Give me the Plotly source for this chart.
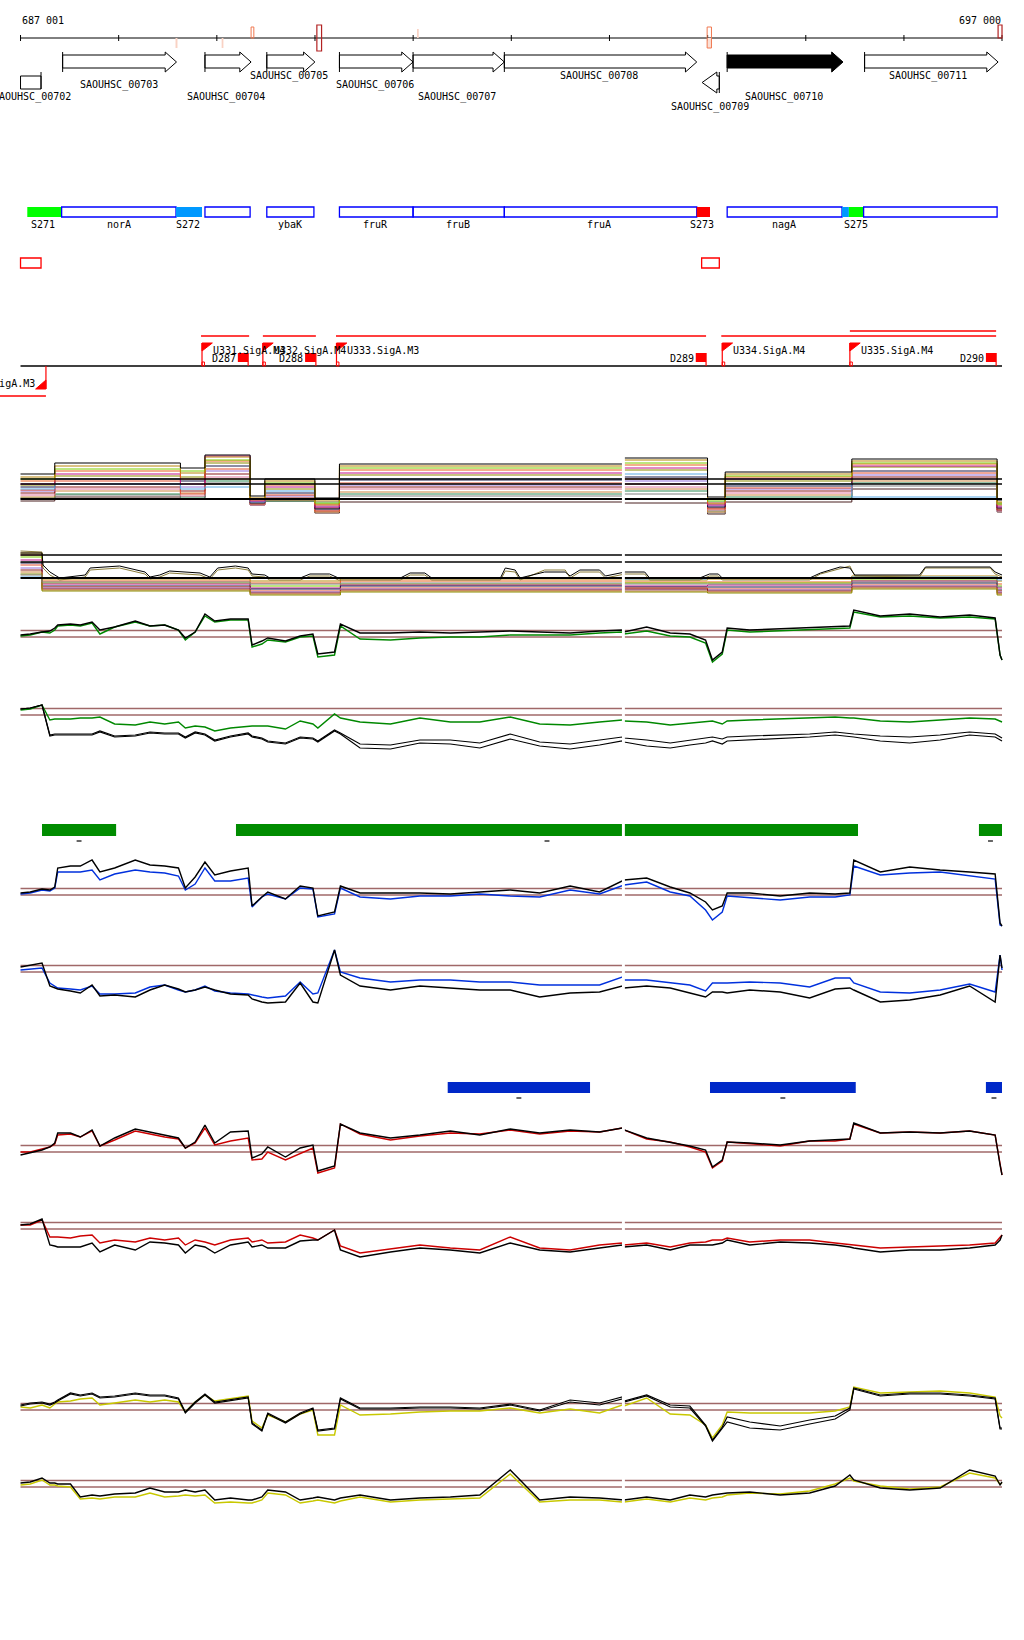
import plotly.graph_objects as go

W, H = 1024, 1640
X_RANGE = [686792, 697224]
FONT = "DejaVu Sans Mono"

# ---------------- data ----------------
TICKS = [687001, 688001, 689001, 690001, 691001, 692001, 693001, 694001, 695001, 696001, 697000]
POS_LABELS = ["687 001", "697 000"]

GENE_NAMES = ["SAOUHSC_00702", "SAOUHSC_00703", "SAOUHSC_00704", "SAOUHSC_00705", "SAOUHSC_00706",
              "SAOUHSC_00707", "SAOUHSC_00708", "SAOUHSC_00709", "SAOUHSC_00710", "SAOUHSC_00711"]
GENE_START = [687001, 687430, 688880, 689510, 690250, 691000, 691930, 693945, 694200, 695600]
GENE_END = [687210, 688590, 689350, 690000, 691000, 691930, 693890, 694120, 695380, 696960]
GENE_STRAND = ["0", "+", "+", "+", "+", "+", "+", "-", "+", "+"]
GENE_LABEL_X = [687123, 688000, 689095, 689740, 690617, 691447, 692899, 694020, 694779, 696246]

OPERON_NAMES = ["S271", "norA", "S272", "", "ybaK", "fruR", "fruB", "fruA", "S273", "nagA", "S275", "", ""]
OPERON_START = [687070, 687420, 688585, 688880, 689510, 690250, 691000, 691930, 693890, 694200, 695370, 695440, 695590]
OPERON_END = [687420, 688585, 688850, 689340, 689990, 691000, 691930, 693890, 694025, 695370, 695440, 695590, 696950]
OPERON_FILL = ["#00FF00", None, "#0099FF", None, None, None, None, None, "#FF0000", None, "#0099FF", "#00FF00", None]
OPERON_LABEL_X = [687230, 688000, 688707, None, 689745, 690622, 691458, 692894, 693945, 694779, 695512, None, None]

RED_BOX_START = [687001, 693940]
RED_BOX_END = [687210, 694120]

U_NAMES = ["U331.SigA.M4", "U332.SigA.M4", "U333.SigA.M3", "U334.SigA.M4", "U335.SigA.M4"]
U_POS = [688850, 689470, 690220, 694150, 695450]
D_NAMES = ["D287", "D288", "D289", "D290"]
D_START = [689215, 689900, 693880, 696836]
D_END = [689320, 690010, 693985, 696940]
REG_START = [688840, 689470, 690215, 694140]
REG_END = [689330, 690010, 693985, 696940]
REG2_START = [695450]
REG2_END = [696940]
REV_NAME = "U330.SigA.M3"
REV_POS = 687260

GREEN_BAR_START = [687220, 689196, 696765]
GREEN_BAR_END = [687975, 695533, 697000]
BLUE_BAR_START = [691353, 694025, 696836]
BLUE_BAR_END = [692803, 695510, 697000]

# common positions for the profile tracks
POS = [687001, 687100, 687220, 687300, 687350, 687380, 687510, 687610, 687730, 687810, 687960, 688170,
       688320, 688470, 688610, 688680, 688780, 688880, 688980, 689140, 689320, 689360, 689460, 689520,
       689700, 689850, 689980, 690030, 690200, 690260, 690460, 690770, 691070, 691380, 691680, 691990,
       692290, 692600, 692900, 693130, 693150, 693380, 693620, 693820, 693980, 694050, 694150, 694200,
       694430, 694740, 695040, 695300, 695450, 695490, 695760, 696060, 696370, 696670, 696930, 696980, 697000]

GT_BLACK = [0.2,0.3,0.5,0.6,0.9,1.2,1.3,1.2,1.5,0.7,1.0,1.6,1.1,1.2,0.7,-0.1,0.5,2.3,1.6,1.8,1.8,-0.8,-0.4,-0.1,-0.4,0.1,0.3,-1.7,-1.5,1.3,0.4,0.4,0.5,0.4,0.5,0.6,0.5,0.4,0.6,0.7,0.5,1.0,0.4,0.3,-0.3,-2.3,-1.5,0.9,0.7,0.8,0.9,1.0,1.1,2.7,2.1,2.3,2.0,2.2,1.9,-1.8,-2.3]
GT_GREEN = [0.1,0.2,0.5,0.4,0.7,1.1,1.2,1.1,1.4,0.3,1.0,1.5,1.1,1.2,0.7,-0.3,0.5,2.1,1.5,1.7,1.7,-1.0,-0.7,-0.3,-0.5,0.0,0.1,-2.0,-1.8,1.1,-0.2,-0.3,-0.1,0.0,0.0,0.2,0.2,0.2,0.4,0.5,0.3,0.6,0.1,0.0,-0.6,-2.5,-1.7,0.7,0.5,0.6,0.7,0.8,0.9,2.5,2.0,2.1,1.9,2.0,1.8,-1.8,-2.3]
GB_BLACK = [0.6,0.7,1.0,-2.0,-1.9,-1.9,-1.9,-1.9,-1.9,-1.6,-2.1,-2.0,-1.7,-1.8,-1.8,-2.2,-1.7,-1.9,-2.5,-2.1,-1.8,-2.1,-2.3,-2.6,-2.8,-2.2,-2.3,-2.6,-1.5,-1.8,-2.9,-3.0,-2.5,-2.5,-2.8,-1.9,-2.7,-2.9,-2.5,-2.2,-2.3,-2.5,-2.8,-2.5,-2.3,-2.2,-2.4,-2.2,-2.1,-2.0,-1.9,-1.7,-1.8,-1.9,-2.1,-2.2,-2.0,-1.7,-1.9,-2.2,-2.3]
GB_BLACK2 = [0.6,0.7,1.0,-2.1,-2.0,-2.0,-2.0,-2.0,-2.0,-1.7,-2.2,-2.1,-1.8,-1.9,-1.9,-2.3,-1.8,-2.0,-2.6,-2.2,-1.9,-2.2,-2.4,-2.7,-2.9,-2.3,-2.4,-2.7,-1.6,-1.9,-3.3,-3.4,-2.8,-2.9,-3.3,-2.4,-3.1,-3.4,-3.0,-2.6,-2.7,-3.1,-3.3,-3.0,-2.8,-2.6,-2.9,-2.6,-2.5,-2.4,-2.2,-2.0,-2.1,-2.2,-2.6,-2.8,-2.5,-2.0,-2.2,-2.5,-2.6]
GB_GREEN = [0.5,0.6,1.0,-0.5,-0.4,-0.4,-0.4,-0.3,-0.3,-0.2,-0.9,-1.0,-0.7,-0.9,-0.7,-1.3,-1.1,-1.2,-1.6,-1.3,-1.1,-1.1,-1.1,-1.1,-1.4,-0.6,-0.9,-1.3,0.1,-0.3,-0.7,-0.9,-0.3,-0.7,-0.7,-0.2,-0.9,-1.0,-0.7,-0.5,-0.6,-0.7,-1.0,-0.8,-0.7,-0.6,-0.9,-0.6,-0.5,-0.4,-0.3,-0.2,-0.3,-0.3,-0.6,-0.7,-0.5,-0.3,-0.4,-0.6,-0.7]
BT_BLACK = [0.2,0.3,0.6,0.5,0.8,2.7,2.9,2.9,3.5,2.3,2.7,3.5,3.0,2.9,2.7,0.7,1.8,3.3,2.0,2.4,2.7,-1.1,-0.2,0.3,-0.4,0.9,0.7,-2.1,-1.7,0.9,0.2,0.2,0.2,0.1,0.3,0.5,0.2,0.9,0.3,1.4,1.5,1.7,0.8,0.2,-0.7,-1.5,-1.1,0.2,0.2,-0.1,0.2,0.1,0.2,3.5,2.3,2.8,2.5,2.3,2.1,-2.8,-3.1]
BT_BLUE = [0.1,0.2,0.5,0.4,0.7,2.3,2.3,2.3,2.5,1.5,2.1,2.5,2.3,2.2,1.9,0.5,1.1,2.7,1.4,1.4,1.7,-1.2,-0.2,0.1,-0.4,0.7,0.6,-2.2,-1.9,0.7,-0.2,-0.4,-0.1,-0.1,0.1,-0.1,-0.2,0.5,0.1,1.0,1.0,1.3,0.3,-0.1,-1.5,-2.5,-1.7,-0.1,-0.3,-0.5,-0.2,-0.2,0.0,2.9,2.0,2.2,2.3,1.9,1.6,-3.0,-3.1]
BB_BLACK = [0.5,0.7,0.9,-1.4,-1.6,-1.7,-1.9,-2.1,-1.3,-2.4,-2.3,-2.5,-1.8,-1.3,-1.7,-2.0,-1.8,-1.5,-1.8,-2.2,-2.3,-2.7,-3.0,-3.1,-3.0,-1.1,-3.0,-3.1,2.2,-0.3,-1.4,-1.8,-1.4,-1.6,-1.8,-1.8,-2.5,-2.1,-2.0,-1.4,-1.6,-1.4,-1.6,-2.1,-2.5,-2.0,-2.0,-2.1,-1.8,-2.0,-2.6,-1.7,-1.6,-1.8,-3.0,-2.8,-2.3,-1.4,-3.0,1.7,0.4]
BB_BLUE = [0.2,0.3,0.4,-1.1,-1.4,-1.6,-1.7,-1.8,-1.4,-2.2,-2.2,-2.1,-1.5,-1.3,-1.8,-2.0,-1.8,-1.4,-1.9,-2.1,-2.2,-2.3,-2.5,-2.6,-2.4,-1.0,-2.2,-2.1,2.2,0.0,-0.6,-1.0,-0.8,-0.8,-1.0,-1.0,-1.3,-1.3,-1.3,-0.5,-0.8,-0.8,-1.1,-1.3,-1.9,-1.1,-1.1,-1.1,-1.0,-1.1,-1.5,-0.6,-0.6,-1.1,-2.0,-2.1,-1.8,-1.2,-2.0,1.7,0.2]
RT_BLACK = [-0.3,-0.1,0.2,0.5,0.9,1.9,1.9,1.5,2.2,0.6,1.4,2.3,2.0,1.7,1.4,0.4,1.0,2.7,0.9,2.0,2.1,-0.6,-0.2,0.5,-0.5,0.4,0.7,-1.9,-1.4,2.8,1.9,1.4,1.7,2.1,1.7,2.3,1.9,2.2,2.0,2.4,2.2,1.4,1.0,0.6,0.2,-1.5,-0.8,1.0,0.9,0.7,1.1,1.2,1.3,2.9,1.9,2.0,1.9,2.1,1.7,-1.3,-2.3]
RT_RED = [0.0,0.0,0.3,0.5,0.8,1.7,1.8,1.5,2.1,0.6,1.2,2.1,1.8,1.5,1.3,0.4,0.9,2.4,0.7,1.1,1.4,-0.8,-0.7,0.0,-0.8,-0.2,0.4,-2.1,-1.6,2.8,1.8,1.2,1.6,1.9,1.8,2.2,1.8,2.1,2.0,2.4,2.2,1.3,1.0,0.5,0.0,-1.6,-0.9,1.0,0.8,0.6,1.1,1.1,1.3,2.8,1.9,2.0,1.9,2.1,1.7,-1.3,-2.3]
RB_BLACK = [0.4,0.5,1.0,-1.6,-1.7,-1.8,-1.8,-1.8,-1.4,-2.3,-1.6,-2.1,-1.3,-1.4,-1.6,-2.4,-1.6,-1.8,-2.4,-1.6,-1.3,-1.8,-1.6,-1.9,-1.9,-1.2,-1.1,-1.1,-0.1,-2.1,-2.8,-2.3,-1.9,-2.1,-2.4,-1.4,-2.1,-2.3,-1.9,-1.6,-1.8,-1.6,-2.1,-1.6,-1.6,-1.6,-1.4,-1.1,-1.6,-1.3,-1.4,-1.6,-1.8,-1.9,-2.3,-2.1,-2.1,-1.9,-1.6,-1.1,-0.6]
RB_RED = [0.4,0.4,0.9,-0.8,-0.8,-0.8,-0.9,-0.7,-0.6,-1.4,-1.1,-1.3,-0.9,-1.1,-0.9,-1.6,-1.1,-1.3,-1.6,-1.1,-0.9,-1.3,-1.1,-1.4,-1.3,-0.6,-0.9,-1.1,-0.1,-1.7,-2.4,-2.0,-1.6,-1.9,-2.1,-0.8,-1.9,-2.1,-1.6,-1.4,-1.6,-1.4,-1.8,-1.4,-1.3,-1.1,-1.1,-0.9,-1.3,-1.1,-1.1,-1.4,-1.6,-1.6,-1.9,-1.8,-1.7,-1.6,-1.4,-0.9,-0.6]
YT_BLACK = [0.5,0.7,0.8,0.6,0.8,1.0,1.7,1.5,1.7,1.3,1.4,1.7,1.5,1.5,1.2,-0.2,0.8,1.6,0.8,1.0,1.3,-1.3,-2.0,-0.3,-1.2,-0.3,0.2,-2.0,-1.8,1.2,0.2,0.2,0.3,0.3,0.2,0.6,0.0,1.0,0.7,1.3,0.9,1.5,0.5,0.4,-1.5,-3.0,-1.7,-0.7,-1.2,-1.6,-1.0,-0.6,0.2,2.2,1.5,1.7,1.7,1.5,1.2,-1.8,-1.8]
YT_BLACK2 = [0.4,0.6,0.7,0.5,0.7,0.9,1.6,1.4,1.6,1.2,1.3,1.6,1.4,1.4,1.1,-0.3,0.7,1.5,0.7,0.9,1.2,-1.4,-2.1,-0.4,-1.3,-0.4,0.1,-2.1,-1.9,1.1,0.1,0.1,0.2,0.2,0.1,0.5,-0.1,0.8,0.5,1.1,0.8,1.4,0.3,0.2,-1.6,-3.1,-1.9,-1.2,-1.8,-2.0,-1.4,-0.9,0.0,2.1,1.4,1.6,1.6,1.4,1.1,-1.9,-1.9]
YT_YELLOW = [0.3,0.2,0.5,0.2,0.6,0.8,0.9,1.1,1.2,0.5,0.7,1.0,0.8,1.0,0.8,-0.2,0.8,1.5,0.9,1.1,1.4,-1.1,-1.8,-0.5,-1.2,-0.4,0.0,-2.5,-2.5,0.5,-0.5,-0.4,-0.2,-0.1,-0.1,0.2,-0.3,0.1,-0.3,0.5,0.4,1.2,-0.4,-0.5,-1.5,-2.8,-1.5,-0.2,-0.3,-0.3,-0.3,-0.1,0.3,2.3,1.7,1.8,1.9,1.7,1.3,-0.6,-0.8]
YB_BLACK = [0.4,0.5,0.9,0.4,0.4,0.3,0.3,-1.0,-0.8,-0.9,-0.7,-0.6,-0.1,-0.5,-0.5,-0.3,-0.5,-0.3,-1.3,-1.1,-1.3,-1.3,-1.0,-0.3,-0.5,-1.3,-1.1,-1.0,-1.3,-1.1,-0.8,-1.3,-1.1,-1.0,-0.8,1.7,-1.3,-1.0,-1.1,-1.3,-1.3,-1.0,-1.3,-0.8,-1.0,-0.8,-0.7,-0.6,-0.5,-0.8,-0.6,0.1,1.2,0.7,-0.1,-0.3,-0.1,1.7,1.1,0.2,0.5]
YB_YELLOW = [0.2,0.3,0.7,0.2,0.2,0.1,0.0,-1.2,-1.1,-1.2,-1.0,-1.0,-0.6,-1.0,-0.9,-0.8,-0.9,-0.8,-1.6,-1.5,-1.6,-1.6,-1.3,-0.6,-0.8,-1.6,-1.4,-1.3,-1.6,-1.4,-1.0,-1.5,-1.3,-1.2,-1.1,1.3,-1.5,-1.3,-1.3,-1.5,-1.5,-1.2,-1.5,-1.1,-1.3,-1.1,-1.0,-0.8,-0.6,-0.7,-0.4,0.3,0.9,0.6,0.1,-0.2,0.0,1.4,0.9,0.3,0.4]

# multi-sample track A (segment levels)
A_SEG = [687001, 687350, 688630, 688880, 689340, 689490, 690000, 690250, 693140, 694000, 694180, 695470, 696950, 697000]
A_COLORS = ["#000000", "#B8860B", "#7CCD00", "#E8601C", "#C0148C", "#8B8B00", "#5AAAE6", "#1A1A4A",
            "#E05030", "#9370DB", "#8B1A1A", "#E07AA0", "#CD853F", "#2E8B57", "#808080", "#4A2020"]
A_LEVELS = [
    [2.5, 3.6, 3.1, 4.4, 0.3, 2.0, 0.1, 3.5, 4.1, 0.2, 2.7, 4.0, -0.1],
    [2.2, 3.3, 2.6, 4.2, 0.1, 1.8, -0.2, 3.3, 3.9, 0.0, 2.5, 3.8, -0.3],
    [2.0, 3.0, 2.8, 3.9, 0.0, 1.6, -0.4, 3.1, 3.6, -0.2, 2.3, 3.6, -0.5],
    [1.8, 2.8, 2.0, 3.8, -0.1, 1.4, -0.6, 2.9, 3.4, -0.4, 2.2, 3.5, -0.6],
    [1.5, 2.5, 1.5, 4.3, -0.2, 1.2, -0.8, 2.6, 3.1, -0.6, 2.0, 3.3, -0.8],
    [1.4, 2.3, 2.2, 3.6, 0.0, 1.0, -0.5, 2.4, 2.9, -0.5, 1.8, 3.2, -0.4],
    [1.0, 1.5, 1.0, 1.2, -0.3, 0.8, -0.3, 2.0, 2.5, -0.3, 1.5, 0.2, -0.5],
    [1.2, 2.0, 1.8, 3.3, -0.4, 0.6, -1.0, 1.9, 2.2, -0.8, 1.3, 2.8, -0.9],
    [0.9, 1.8, 0.5, 3.0, -0.5, 0.4, -1.2, 1.6, 2.0, -1.0, 1.1, 2.6, -1.0],
    [0.8, 1.5, 1.2, 2.8, -0.2, 0.3, -0.7, 1.4, 1.8, -0.7, 1.0, 2.4, -0.7],
    [0.6, 1.2, 0.8, 2.5, -0.3, 0.1, -0.9, 1.2, 1.5, -0.9, 0.8, 2.2, -1.1],
    [0.4, 1.0, 0.3, 2.2, -0.6, 0.0, -1.1, 1.0, 1.2, -1.1, 0.6, 2.0, -1.2],
    [0.2, 0.8, 0.6, 2.0, -0.4, -0.1, -1.3, 0.7, 1.0, -1.3, 0.4, 1.8, -0.9],
    [0.1, 0.5, 0.2, 1.8, -0.5, -0.2, -1.0, 0.5, 0.8, -1.2, 0.2, 1.6, -1.0],
    [0.0, 0.4, 0.0, 1.6, -0.6, -0.1, -1.2, 0.3, 0.5, -1.4, 0.0, 1.3, -1.2],
    [-0.2, 0.2, 0.0, 1.5, -0.6, -0.2, -1.4, -0.3, -0.4, -1.5, -0.3, 1.0, -1.3],
]

# multi-sample track B
B_SEG = [687001, 687220, 689340, 690260, 693140, 694000, 695470, 696950, 697000]
B_COLORS = ["#B8860B", "#E8601C", "#7CCD00", "#C0148C", "#5AAAE6", "#1A1A4A",
            "#E05030", "#9370DB", "#8B1A1A", "#CD853F", "#8B8B00", "#808080"]
B_LEVELS = [
    [2.5, -0.1, -0.3, -0.1, -0.2, -0.1, 0.2, -0.3],
    [2.3, -0.3, -0.5, -0.3, -0.4, -0.4, 0.0, -0.6],
    [2.1, -0.5, -0.8, -0.6, -0.5, -0.5, -0.2, -0.8],
    [1.8, -0.6, -1.0, -0.7, -0.8, -0.7, -0.3, -1.0],
    [0.1, 0.0, 0.0, 0.0, -0.1, 0.0, 0.1, -0.2],
    [1.5, -0.8, -1.1, -0.8, -0.9, -0.9, -0.5, -1.2],
    [1.3, -0.9, -1.3, -1.0, -1.0, -1.1, -0.7, -1.3],
    [1.0, -1.0, -1.4, -1.1, -1.2, -1.2, -0.8, -1.4],
    [0.8, -1.1, -1.5, -1.2, -1.1, -1.3, -0.9, -1.5],
    [0.6, -1.2, -1.6, -1.3, -1.3, -1.4, -1.0, -1.6],
    [0.4, -1.3, -1.7, -1.4, -1.4, -1.5, -1.1, -1.7],
    [0.3, -0.4, -0.6, -0.5, -0.6, -0.6, -0.4, -0.9],
]
B_UP_POS = [687001, 687220, 687230, 687300, 687400, 687660, 687710, 688010, 688270, 688320, 688420, 688520,
            688830, 688930, 689010, 689190, 689320, 689360, 689490, 689540, 689850, 689950, 690150, 690240,
            690870, 690970, 691120, 691190, 691890, 691940, 692040, 692090, 692340, 692550, 692600, 692700,
            692900, 692960, 693160, 693360, 693410, 693920, 694020, 694110, 694150, 695040, 695150, 695350,
            695450, 695500, 696160, 696220, 696880, 696930, 697000]
B_UP_BLACK = [2.5,2.5,1.3,0.6,0.0,0.3,1.0,1.2,0.6,0.1,0.3,0.7,0.5,0.1,1.0,1.2,1.0,0.4,0.3,0.0,0.0,0.4,0.4,0.0,0.0,0.5,0.5,0.0,0.0,1.0,0.8,0.0,0.6,0.6,0.2,0.8,0.8,0.2,0.6,0.6,0.0,0.0,0.4,0.4,0.0,0.0,0.5,1.1,1.0,0.3,0.3,1.1,1.1,0.6,0.3]
B_UP_OLIVE = [2.7,2.6,1.0,0.3,-0.2,0.1,0.8,1.0,0.4,-0.1,0.1,0.5,0.3,-0.1,0.8,1.0,0.8,0.2,0.1,-0.2,-0.2,0.2,0.2,-0.2,-0.2,0.3,0.3,-0.2,-0.2,0.7,0.6,-0.2,0.8,0.8,0.0,0.6,0.6,0.0,0.4,0.4,-0.2,-0.2,0.2,0.2,-0.2,-0.2,0.4,0.9,1.2,0.2,0.1,1.0,1.0,0.4,0.1]

# ---------------- layout helpers ----------------
GREEN, BLUE, RED, YELLOW, BROWN = "#008800", "#0030DD", "#CC0000", "#C8C800", "#A06868"

# panel: (axis, top px, bottom px, baseline px)
PANELS = {
    "A": ("y2", 440, 530, 499), "B": ("y3", 530, 605, 578),
    "GT": ("y4", 605, 680, 637), "GB": ("y5", 680, 770, 715),
    "BT": ("y6", 840, 935, 895), "BB": ("y7", 935, 1025, 972),
    "RT": ("y8", 1100, 1190, 1152), "RB": ("y9", 1190, 1280, 1229),
    "YT": ("y10", 1370, 1455, 1410), "YB": ("y11", 1455, 1530, 1487),
}

fig = go.Figure()
shapes = []
annots = []


def txt(x, y, s, anchor="center", size=10, color="black"):
    annots.append(dict(x=x, y=y, xref="x", yref="y", text=s, showarrow=False, xanchor=anchor,
                       yanchor="middle", borderpad=0, font=dict(family=FONT, size=size, color=color)))


def line(x0, y0, x1, y1, color="black", width=1, yref="y", layer="above"):
    shapes.append(dict(type="line", x0=x0, x1=x1, y0=y0, y1=y1, xref="x", yref=yref,
                       line=dict(color=color, width=width), layer=layer))


def rect(x0, y0, x1, y1, color="black", fill=None, width=1, layer="above"):
    shapes.append(dict(type="rect", x0=x0, x1=x1, y0=y0, y1=y1, xref="x", yref="y",
                       line=dict(color=color, width=width if color else 0),
                       fillcolor=fill if fill else "rgba(0,0,0,0)", layer=layer))


def path(d, color="black", fill=None, width=1):
    shapes.append(dict(type="path", path=d, xref="x", yref="y", line=dict(color=color, width=width),
                       fillcolor=fill if fill else "rgba(0,0,0,0)", layer="above"))


def trace(x, y, axis, color, width=1.3, shape="linear"):
    fig.add_trace(go.Scatter(x=x, y=y, xaxis="x", yaxis=axis, mode="lines", hoverinfo="skip",
                             showlegend=False, line=dict(color=color, width=width, shape=shape)))


# ---------------- ruler ----------------
line(TICKS[0], 38, TICKS[-1], 38, width=1)
for t in TICKS:
    line(t, 35, t, 41, width=1)
txt(TICKS[0], 20, POS_LABELS[0], anchor="left")
txt(TICKS[-1], 20, POS_LABELS[1], anchor="right")
# marks on the ruler
rect(688580, 38, 688600, 48, color=None, fill="#F9D2C4")
rect(689050, 38, 689068, 48, color=None, fill="#F9D2C4")
rect(691040, 29, 691058, 38, color=None, fill="#F9D2C4")
rect(689350, 27, 689378, 38, color="#F07850", width=1)
rect(690020, 25, 690068, 51, color="#B22222", width=1.2)
rect(693996, 38, 694040, 48, color=None, fill="#FBE0D6")
rect(693996, 27, 694040, 48, color="#F07850", width=1)
rect(696960, 25, 697000, 38, color="#B22222", width=1.2)

# ---------------- genes ----------------
HEAD = 115
label_rows = [97, 85, 97, 76, 85, 97, 76, 107, 97, 76]
for name, s, e, st, lx, ly in zip(GENE_NAMES, GENE_START, GENE_END, GENE_STRAND, GENE_LABEL_X, label_rows):
    if st == "+":
        hs = e - HEAD
        d = f"M {s},55 L {hs},55 L {hs},52 L {e},62 L {hs},72 L {hs},68 L {s},68 Z"
        fill = "black" if name == "SAOUHSC_00710" else "white"
        path(d, fill=fill)
        line(s, 52, s, 72)
    elif st == "-":
        hs = s + 150
        d = f"M {e},76 L {hs},76 L {hs},72 L {s},82.5 L {hs},93 L {hs},89 L {e},89 Z"
        path(d, fill="white")
        line(e, 72, e, 93)
    else:
        rect(s, 76, e, 89, color="black")
        line(e, 72, e, 89)
    txt(lx, ly, name)

# ---------------- operon / feature bars ----------------
for nm, s, e, f, lx in zip(OPERON_NAMES, OPERON_START, OPERON_END, OPERON_FILL, OPERON_LABEL_X):
    if f:
        rect(s, 207, e, 217, color=None, fill=f)
    else:
        rect(s, 207, e, 217, color="#0000FF", width=1.3)
    if nm and lx:
        txt(lx, 224, nm)

for s, e in zip(RED_BOX_START, RED_BOX_END):
    rect(s, 258, e, 268, color="#FF0000", width=1.3)

# ---------------- promoters / terminators ----------------
line(687001, 366, 697000, 366, width=1.3)
for s, e in zip(REG_START, REG_END):
    line(s, 336, e, 336, color="#FF0000", width=1.3)
for s, e in zip(REG2_START, REG2_END):
    line(s, 331, e, 331, color="#FF0000", width=1.3)
for nm, p in zip(U_NAMES, U_POS):
    line(p, 343, p, 366, color="#FF0000", width=1.2)
    path(f"M {p},343 L {p + 105},343 L {p},351 Z", color="#FF0000", fill="#FF0000")
    rect(p, 362, p + 25, 366, color="#FF0000", width=1)
    txt(p + 100, 350, nm, anchor="left")
for nm, s, e in zip(D_NAMES, D_START, D_END):
    rect(s, 353, e, 362, color=None, fill="#FF0000")
    line(e, 353, e, 366, color="#FF0000", width=1.2)
    txt(s - 10, 358, nm, anchor="right")
line(REV_POS, 366, REV_POS, 389, color="#FF0000", width=1.2)
path(f"M {REV_POS},380 L {REV_POS},389 L {REV_POS - 105},389 Z", color="#FF0000", fill="#FF0000")
txt(REV_POS - 105, 383, REV_NAME, anchor="right")
line(X_RANGE[0], 396, REV_POS, 396, color="#FF0000", width=1.3)

# ---------------- expression panels ----------------
layout_axes = {}
for key, (ax, pt, pb, ref) in PANELS.items():
    name = "yaxis" + ax[1:]
    layout_axes[name] = dict(domain=[1 - pb / H, 1 - pt / H], range=[(ref - pb) / 10, (ref - pt) / 10],
                             visible=False, fixedrange=True, anchor="x")

# reference lines
for key in ["GT", "GB", "BT", "BB", "RT", "RB", "YT", "YB"]:
    ax = PANELS[key][0]
    for v in (0.0, 0.65):
        line(687001, v, 697000, v, color=BROWN, width=1.3, yref=ax, layer="below")

# track A
for col, lev in zip(A_COLORS[::-1], A_LEVELS[::-1]):
    trace(A_SEG, lev + [lev[-1]], "y2", col, width=1, shape="hv")
for v, wd in ((2.0, 1.4), (1.5, 1.4), (0.0, 1.8)):
    line(687001, v, 697000, v, width=wd, yref="y2")

# track B
for col, lev in zip(B_COLORS, B_LEVELS):
    trace(B_SEG, lev + [lev[-1]], "y3", col, width=1, shape="hv")
trace(B_UP_POS, B_UP_OLIVE, "y3", "#8B7D3A", width=1)
trace(B_UP_POS, B_UP_BLACK, "y3", "#000000", width=1)
for v, wd in ((2.3, 1.4), (1.6, 1.4), (0.0, 2.2)):
    line(687001, v, 697000, v, width=wd, yref="y3")

# pair tracks
for key, blacks, col, c in [("GT", [GT_BLACK], GT_GREEN, GREEN), ("GB", [GB_BLACK, GB_BLACK2], GB_GREEN, GREEN),
                            ("BT", [BT_BLACK], BT_BLUE, BLUE), ("BB", [BB_BLACK], BB_BLUE, BLUE),
                            ("RT", [RT_BLACK], RT_RED, RED), ("RB", [RB_BLACK], RB_RED, RED),
                            ("YT", [YT_BLACK, YT_BLACK2], YT_YELLOW, YELLOW), ("YB", [YB_BLACK], YB_YELLOW, YELLOW)]:
    ax = PANELS[key][0]
    trace(POS, col, ax, c, width=1.4)
    for blk in blacks:
        trace(POS, blk, ax, "#000000", width=1.2 if len(blacks) > 1 else 1.4)

# region bars
for s, e in zip(GREEN_BAR_START, GREEN_BAR_END):
    rect(s, 824, e, 836, color=None, fill="#008C00")
    m = (s + e) / 2
    line(m - 25, 841, m + 25, 841, width=1.2)
for s, e in zip(BLUE_BAR_START, BLUE_BAR_END):
    rect(s, 1082, e, 1093, color=None, fill="#0028C8")
    m = (s + e) / 2
    line(m - 25, 1098, m + 25, 1098, width=1.2)

# vertical break in the profile panels
rect(693128, 430, 693158, 1520, color=None, fill="white")

fig.update_layout(
    width=W, height=H, margin=dict(l=0, r=0, t=0, b=0),
    paper_bgcolor="white", plot_bgcolor="white", showlegend=False,
    xaxis=dict(range=X_RANGE, domain=[0, 1], visible=False, fixedrange=True),
    yaxis=dict(range=[H, 0], domain=[0, 1], visible=False, fixedrange=True),
    shapes=shapes, annotations=annots, **layout_axes,
)
fig.write_html("out.html", config={"displayModeBar": False},
               post_script="document.body.style.margin='0px';")
